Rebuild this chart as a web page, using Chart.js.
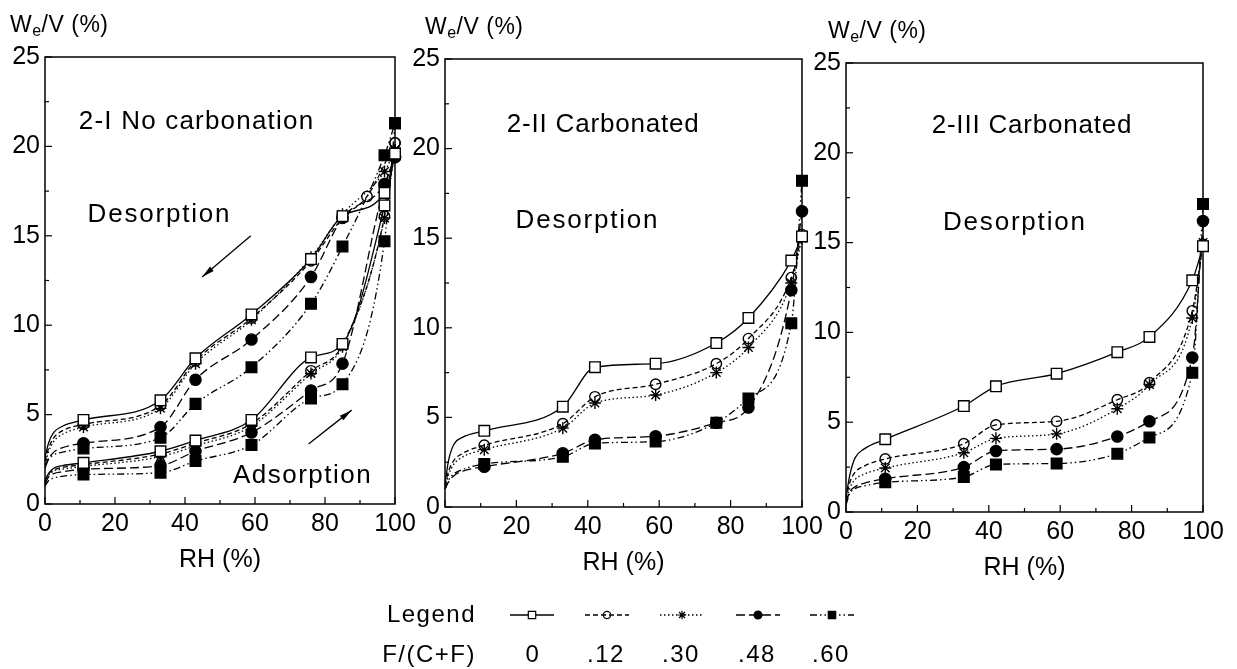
<!DOCTYPE html>
<html><head><meta charset="utf-8">
<script src="https://cdn.jsdelivr.net/npm/chart.js@4.4.0/dist/chart.umd.min.js"></script>
<style>
html,body{margin:0;padding:0;background:#fff;width:1237px;height:669px;overflow:hidden}
canvas{position:absolute;left:0;top:0}
</style></head><body>
<canvas id="c1" width="1237" height="669"></canvas>
<canvas id="c2" width="1237" height="669"></canvas>
<canvas id="c3" width="1237" height="669"></canvas>
<script>
// ---------- DATA ----------
const seriesLabels = ['0', '.12', '.30', '.48', '.60'];
const lowRH = [0, 1, 2.5, 5];               // unmarked start of the fitted curves

// Panel 2-I  No carbonation
const p1RH = [11, 33, 43, 59, 76, 85, 97, 100];
const p1RHdes12 = [11, 33, 43, 59, 76, 85, 92, 100];
const p1Des0  = [4.7, 5.8, 8.15, 10.6, 13.7, 16.1, 17.4, 19.6];
const p1Des12 = [4.45, 5.5, 8.0, 10.4, 13.6, 16.0, 17.2, 20.2];
const p1Des30 = [4.3, 5.35, 7.85, 10.3, 13.8, 16.2, 18.6, 19.8];
const p1Des48 = [3.4, 4.3, 6.95, 9.2, 12.7, 16.0, 17.9, 19.4];
const p1Des60 = [3.1, 3.7, 5.6, 7.65, 11.2, 14.4, 19.5, 21.3];
const p1Ads0  = [2.3, 2.95, 3.55, 4.7, 8.2, 8.95, 16.7, 19.6];
const p1Ads12 = [2.2, 2.8, 3.4, 4.5, 7.45, 8.9, 16.1, 20.2];
const p1Ads30 = [2.1, 2.65, 3.25, 4.35, 7.3, 8.8, 16.0, 19.8];
const p1Ads48 = [1.95, 2.15, 2.95, 4.0, 6.35, 7.85, 17.8, 19.4];
const p1Ads60 = [1.65, 1.75, 2.4, 3.3, 5.9, 6.7, 14.7, 21.3];
const p1LowDes0  = [2.6, 3.4, 4.0, 4.35];
const p1LowDes12 = [2.4, 3.1, 3.7, 4.1];
const p1LowDes30 = [2.2, 2.9, 3.5, 3.9];
const p1LowDes48 = [2.0, 2.5, 2.9, 3.15];
const p1LowDes60 = [2.2, 2.5, 2.75, 2.9];
const p1LowAds0  = [1.3, 1.7, 2.0, 2.15];
const p1LowAds12 = [1.3, 1.7, 1.9, 2.05];
const p1LowAds30 = [1.2, 1.6, 1.85, 1.95];
const p1LowAds48 = [1.1, 1.5, 1.7, 1.8];
const p1LowAds60 = [1.0, 1.3, 1.45, 1.55];

// Panel 2-II Carbonated
const p2RH = [11, 33, 42, 59, 76, 85, 97, 100];
const p2Des0  = [4.25, 5.6, 7.8, 8.0, 9.15, 10.55, 13.75, 15.1];
const p2Des12 = [3.45, 4.65, 6.15, 6.85, 8.0, 9.4, 12.8, 15.2];
const p2Des30 = [3.2, 4.4, 5.8, 6.25, 7.5, 8.9, 12.5, 15.0];
const p2Des48 = [2.25, 3.0, 3.75, 3.95, 4.7, 5.55, 12.1, 16.5];
const p2Des60 = [2.4, 2.8, 3.55, 3.65, 4.7, 6.05, 10.25, 18.2];
const p2Low0  = [1.3, 2.6, 3.5, 3.9];
const p2Low12 = [1.2, 2.0, 2.6, 3.0];
const p2Low30 = [1.1, 1.8, 2.4, 2.8];
const p2Low48 = [1.0, 1.4, 1.75, 2.0];
const p2Low60 = [1.0, 1.5, 1.85, 2.1];

// Panel 2-III Carbonated
const p3RH = [11, 33, 42, 59, 76, 85, 97, 100];
const p3Des0  = [4.05, 5.9, 7.0, 7.7, 8.9, 9.75, 12.9, 14.8];
const p3Des12 = [2.95, 3.8, 4.85, 5.05, 6.25, 7.2, 11.2, 14.9];
const p3Des30 = [2.45, 3.3, 4.1, 4.35, 5.75, 7.1, 10.8, 15.0];
const p3Des48 = [1.85, 2.5, 3.4, 3.5, 4.2, 5.05, 8.6, 16.2];
const p3Des60 = [1.65, 1.95, 2.65, 2.7, 3.25, 4.15, 7.75, 17.15];
const p3Low0  = [0.8, 2.0, 3.0, 3.5];
const p3Low12 = [0.7, 1.6, 2.2, 2.55];
const p3Low30 = [0.6, 1.3, 1.8, 2.1];
const p3Low48 = [0.5, 1.1, 1.4, 1.6];
const p3Low60 = [0.4, 1.0, 1.3, 1.45];

const yTicks = [0, 5, 10, 15, 20, 25];
const xTicks = [0, 20, 40, 60, 80, 100];

// ---------- STYLES ----------
const FONT = '"Liberation Sans", Arial, Helvetica, sans-serif';
const styles = [
  {pointStyle: 'rect',   radius: 7.5, fill: '#fff', dash: []},
  {pointStyle: 'circle', radius: 5.2, fill: 'rgba(255,255,255,0)', dash: [5, 3]},
  {pointStyle: 'star',   radius: 6,   fill: '#fff', dash: [1.5, 2.5]},
  {pointStyle: 'circle', radius: 5.6, fill: '#000', dash: [9, 4]},
  {pointStyle: 'rect',   radius: 7.5, fill: '#000', dash: [7, 3, 1.5, 3, 1.5, 3]}
];

function mk(xs, ys, lowYs, si) {
  const s = styles[si];
  const n = lowRH.length;
  const data = lowRH.map((x, i) => ({x, y: lowYs[i]})).concat(xs.map((x, i) => ({x, y: ys[i]})));
  return {
    label: seriesLabels[si], data,
    borderColor: '#000', borderWidth: 1.3, borderDash: s.dash,
    pointStyle: s.pointStyle,
    pointRadius: c => c.dataIndex < n ? 0 : s.radius,
    pointHoverRadius: c => c.dataIndex < n ? 0 : s.radius,
    pointBackgroundColor: s.fill, pointBorderColor: '#000', pointBorderWidth: 1.4,
    cubicInterpolationMode: 'monotone', clip: false, fill: false
  };
}

function line(ctx, x1, y1, x2, y2) { ctx.beginPath(); ctx.moveTo(x1, y1); ctx.lineTo(x2, y2); ctx.stroke(); }

const framePlugin = {
  id: 'frame',
  beforeDatasetsDraw(chart) {
    const {ctx, chartArea: a, scales: {x, y}} = chart;
    ctx.save();
    ctx.strokeStyle = '#000';
    ctx.lineWidth = 1.5;
    ctx.strokeRect(a.left, a.top, a.right - a.left, a.bottom - a.top);
    ctx.lineWidth = 1.2;
    for (let v = 0; v <= 100; v += 10) {
      const px = x.getPixelForValue(v);
      line(ctx, px, a.bottom, px, a.bottom - (v % 20 === 0 ? 7 : 4));
    }
    for (let v = 0; v <= 25; v += 2.5) {
      const py = y.getPixelForValue(v);
      line(ctx, a.left, py, a.left + (v % 5 === 0 ? 7 : 4), py);
    }
    ctx.restore();
  },
  afterDraw(chart, args, opts) {
    const {ctx, chartArea: a, scales: {x, y}} = chart;
    ctx.save();
    ctx.fillStyle = '#000';
    ctx.strokeStyle = '#000';
    // y-axis label W_e/V (%)
    let lx = a.left - (opts.ylabOffset || 35), ly = a.top - 25;
    ctx.textAlign = 'left'; ctx.textBaseline = 'alphabetic';
    ctx.letterSpacing = '0.5px';
    ctx.font = '23px ' + FONT;
    ctx.fillText('W', lx, ly); lx += ctx.measureText('W').width;
    ctx.font = '16px ' + FONT;
    ctx.fillText('e', lx, ly + 4); lx += ctx.measureText('e').width;
    ctx.font = '23px ' + FONT;
    ctx.fillText('/V (%)', lx, ly);
    // text annotations
    ctx.font = '26px ' + FONT;
    ctx.textAlign = 'center';
    (opts.texts || []).forEach(t => {
      ctx.letterSpacing = (t.ls || 1.5) + 'px';
      ctx.fillText(t.s, x.getPixelForValue(t.x), y.getPixelForValue(t.y));
    });
    ctx.letterSpacing = '0px';
    // arrows
    ctx.lineWidth = 1.3;
    (opts.arrows || []).forEach(ar => {
      const x1 = x.getPixelForValue(ar.x1), y1 = y.getPixelForValue(ar.y1);
      const x2 = x.getPixelForValue(ar.x2), y2 = y.getPixelForValue(ar.y2);
      line(ctx, x1, y1, x2, y2);
      const ang = Math.atan2(y2 - y1, x2 - x1), L = 13, w = 0.22;
      ctx.beginPath();
      ctx.moveTo(x2, y2);
      ctx.lineTo(x2 - L * Math.cos(ang - w), y2 - L * Math.sin(ang - w));
      ctx.lineTo(x2 - L * Math.cos(ang + w), y2 - L * Math.sin(ang + w));
      ctx.closePath(); ctx.fill();
    });
    // legend
    if (opts.legend) {
      ctx.font = '24px ' + FONT;
      ctx.letterSpacing = '1.5px';
      ctx.textAlign = 'right';
      ctx.fillText('Legend', 476, 622);
      ctx.fillText('F/(C+F)', 476, 662);
      const cx = [532, 607, 682, 758, 832];
      ctx.textAlign = 'center';
      seriesLabels.forEach((lab, i) => {
        const s = styles[i];
        ctx.save();
        ctx.lineWidth = 1.3;
        ctx.setLineDash(s.dash);
        line(ctx, cx[i] - 22, 615, cx[i] + 22, 615);
        ctx.restore();
        ctx.save();
        ctx.lineWidth = 1.2;
        ctx.fillStyle = s.fill; ctx.strokeStyle = '#000';
        Chart.helpers.drawPoint(ctx, {pointStyle: s.pointStyle, radius: s.radius * 0.7, borderWidth: 1.2, rotation: 0}, cx[i], 615);
        ctx.restore();
        ctx.fillText(lab, cx[i] + (i === 0 ? 1 : -1), 662);
      });
    }
    ctx.restore();
  }
};

function makeChart(id, geo, datasets, extra) {
  const xAxisH = 90, yAxisW = 48;
  return new Chart(document.getElementById(id), {
    type: 'line',
    data: {datasets},
    options: {
      responsive: false, animation: false, events: [],
      layout: {padding: {left: geo.L - yAxisW, top: geo.T, right: 1237 - geo.R, bottom: 669 - geo.B - xAxisH}},
      plugins: {legend: {display: false}, tooltip: {enabled: false}, frame: extra},
      scales: {
        x: {
          type: 'linear', min: 0, max: 100,
          afterFit: s => { s.height = xAxisH; },
          afterBuildTicks: s => { s.ticks = xTicks.map(v => ({value: v})); },
          grid: {display: false, drawTicks: false}, border: {display: false},
          ticks: {color: '#000', padding: 5, font: {family: FONT, size: 25}, maxRotation: 0, autoSkip: false},
          title: {display: true, text: 'RH (%)', color: '#000', font: {family: FONT, size: 25}, padding: {top: 0, bottom: 19}}
        },
        y: {
          type: 'linear', min: 0, max: 25,
          afterFit: s => { s.width = yAxisW; },
          afterBuildTicks: s => { s.ticks = yTicks.map(v => ({value: v})); },
          grid: {display: false, drawTicks: false}, border: {display: false},
          ticks: {color: '#000', padding: 5, font: {family: FONT, size: 25}}
        }
      }
    },
    plugins: [framePlugin]
  });
}

makeChart('c1', {L: 45, R: 395, T: 57, B: 504}, [
  mk(p1RH, p1Des0, p1LowDes0, 0),
  mk(p1RHdes12, p1Des12, p1LowDes12, 1),
  mk(p1RH, p1Des30, p1LowDes30, 2),
  mk(p1RH, p1Des48, p1LowDes48, 3),
  mk(p1RH, p1Des60, p1LowDes60, 4),
  mk(p1RH, p1Ads0, p1LowAds0, 0),
  mk(p1RH, p1Ads12, p1LowAds12, 1),
  mk(p1RH, p1Ads30, p1LowAds30, 2),
  mk(p1RH, p1Ads48, p1LowAds48, 3),
  mk(p1RH, p1Ads60, p1LowAds60, 4)
], {
  ylabOffset: 35,
  texts: [{s: '2-I No carbonation', x: 43.3, y: 21.0, ls: 1.2}, {s: 'Desorption', x: 32.7, y: 15.75, ls: 1.8}, {s: 'Adsorption', x: 73.6, y: 1.2, ls: 1.5}],
  arrows: [{x1: 58.8, y1: 15.0, x2: 44.9, y2: 12.7}, {x1: 75.3, y1: 3.35, x2: 87.6, y2: 5.25}]
});

makeChart('c2', {L: 445, R: 802, T: 59, B: 507}, [
  mk(p2RH, p2Des0, p2Low0, 0),
  mk(p2RH, p2Des12, p2Low12, 1),
  mk(p2RH, p2Des30, p2Low30, 2),
  mk(p2RH, p2Des48, p2Low48, 3),
  mk(p2RH, p2Des60, p2Low60, 4)
], {
  ylabOffset: 20,
  texts: [{s: '2-II Carbonated', x: 44.3, y: 20.94, ls: 0.8}, {s: 'Desorption', x: 39.9, y: 15.55, ls: 1.8}],
  legend: true
});

makeChart('c3', {L: 846, R: 1203, T: 63, B: 512}, [
  mk(p3RH, p3Des0, p3Low0, 0),
  mk(p3RH, p3Des12, p3Low12, 1),
  mk(p3RH, p3Des30, p3Low30, 2),
  mk(p3RH, p3Des48, p3Low48, 3),
  mk(p3RH, p3Des60, p3Low60, 4)
], {
  ylabOffset: 18,
  texts: [{s: '2-III Carbonated', x: 52.1, y: 21.1, ls: 0.8}, {s: 'Desorption', x: 47.3, y: 15.68, ls: 1.8}]
});
</script>
</body></html>
